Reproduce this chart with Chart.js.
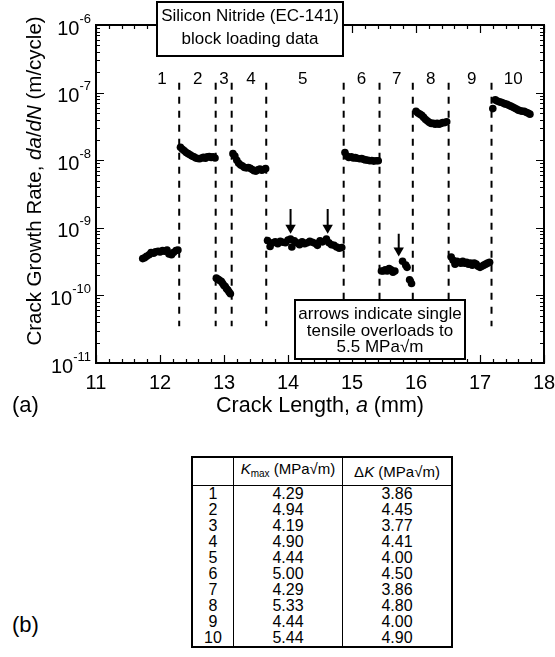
<!DOCTYPE html>
<html>
<head>
<meta charset="utf-8">
<script src="https://cdn.jsdelivr.net/npm/chart.js@4.4.1/dist/chart.umd.min.js"></script>
<style>
  html, body { margin: 0; padding: 0; background: #fff; }
  body { width: 555px; height: 657px; position: relative; overflow: hidden; font-family: "Liberation Sans", Arial, sans-serif; color: #000; }
  #plot { position: absolute; left: 0; top: 0; width: 555px; height: 425px; }
  #lbl-b { position: absolute; left: 12px; top: 612px; font-size: 22px; }
  table { position: absolute; left: 191px; top: 456px; border-collapse: collapse; border: 2px solid #000; font-size: 16px; line-height: 16px; }
  td, th { padding: 0; text-align: center; font-weight: normal; }
  th { height: 27px; border-bottom: 1px solid #000; white-space: nowrap; font-size: 15px; }
  td.n { width: 40px; text-align: center; }
  td.k, th.k { width: 108px; border-left: 1.5px solid #000; }
  sub { font-size: 10px; vertical-align: -3px; }
</style>
</head>
<body>
<div id="plot"><canvas id="chart"></canvas></div>
<div id="lbl-b">(b)</div>
<table id="tbl">
  <thead><tr><th></th><th class="k"><i>K</i><sub>max</sub> (MPa√m)</th><th class="k">Δ<i>K</i> (MPa√m)</th></tr></thead>
  <tbody></tbody>
</table>
<script>
/* Silicon nitride block loading: da/dN vs crack length + load table */

// one [a (mm), da/dN (m/cycle)] list per loading block
const block1 = [[11.73, 3.5e-10], [11.76, 3.6e-10], [11.79, 3.8e-10], [11.83, 4.0e-10], [11.86, 4.3e-10], [11.90, 4.2e-10], [11.93, 4.4e-10], [11.97, 4.5e-10], [12.00, 4.4e-10], [12.04, 4.6e-10], [12.07, 4.5e-10], [12.11, 4.7e-10], [12.14, 4.1e-10], [12.18, 4.0e-10], [12.21, 4.3e-10], [12.25, 4.6e-10], [12.28, 4.7e-10]];
const block2 = [[12.32, 1.55e-8], [12.35, 1.45e-8], [12.38, 1.38e-8], [12.41, 1.30e-8], [12.44, 1.25e-8], [12.47, 1.20e-8], [12.50, 1.15e-8], [12.53, 1.12e-8], [12.56, 1.08e-8], [12.59, 1.06e-8], [12.62, 1.05e-8], [12.65, 1.08e-8], [12.68, 1.10e-8], [12.71, 1.07e-8], [12.74, 1.12e-8], [12.77, 1.13e-8], [12.80, 1.10e-8], [12.83, 1.12e-8], [12.86, 1.08e-8]];
const block3 = [[12.88, 1.80e-10], [12.90, 1.75e-10], [12.92, 1.70e-10], [12.94, 1.65e-10], [12.96, 1.60e-10], [12.98, 1.50e-10], [13.00, 1.40e-10], [13.02, 1.35e-10], [13.04, 1.25e-10], [13.06, 1.20e-10], [13.08, 1.12e-10], [13.10, 1.06e-10]];
const block4 = [[13.14, 1.25e-8], [13.17, 1.15e-8], [13.20, 1.00e-8], [13.23, 9.0e-9], [13.26, 8.5e-9], [13.29, 8.2e-9], [13.32, 7.8e-9], [13.35, 7.7e-9], [13.38, 7.8e-9], [13.41, 7.6e-9], [13.44, 7.3e-9], [13.47, 7.0e-9], [13.50, 6.9e-9], [13.53, 7.2e-9], [13.56, 7.4e-9], [13.59, 7.1e-9], [13.62, 7.3e-9], [13.65, 7.5e-9]];
const block5 = [[13.68, 6.5e-10], [13.72, 5.3e-10], [13.76, 6.0e-10], [13.80, 6.2e-10], [13.84, 5.8e-10], [13.88, 6.3e-10], [13.92, 6.1e-10], [13.96, 6.0e-10], [14.00, 6.6e-10], [14.04, 6.8e-10], [14.06, 5.2e-10], [14.10, 6.4e-10], [14.14, 6.0e-10], [14.18, 5.6e-10], [14.22, 6.2e-10], [14.26, 5.8e-10], [14.30, 6.0e-10], [14.34, 6.3e-10], [14.38, 6.1e-10], [14.42, 5.9e-10], [14.46, 5.5e-10], [14.50, 6.4e-10], [14.54, 6.2e-10], [14.60, 6.8e-10], [14.64, 6.0e-10], [14.68, 5.6e-10], [14.72, 5.5e-10], [14.76, 5.2e-10], [14.80, 5.0e-10], [14.84, 5.1e-10]];
const block6 = [[14.89, 1.30e-8], [14.92, 1.15e-8], [14.95, 1.10e-8], [14.99, 1.12e-8], [15.02, 1.08e-8], [15.05, 1.09e-8], [15.08, 1.07e-8], [15.12, 1.05e-8], [15.15, 1.06e-8], [15.18, 1.03e-8], [15.21, 1.01e-8], [15.25, 1.00e-8], [15.28, 9.8e-9], [15.31, 9.9e-9], [15.34, 9.7e-9], [15.38, 9.8e-9], [15.41, 9.8e-9]];
const block7 = [[15.46, 2.3e-10], [15.49, 2.3e-10], [15.52, 2.4e-10], [15.55, 2.3e-10], [15.58, 2.5e-10], [15.61, 2.4e-10], [15.64, 2.2e-10], [15.67, 2.3e-10], [15.79, 3.2e-10], [15.84, 2.8e-10], [15.86, 2.6e-10], [15.90, 1.7e-10], [15.93, 1.5e-10]];
const block8 = [[16.00, 5.3e-8], [16.03, 5.0e-8], [16.06, 4.8e-8], [16.09, 4.6e-8], [16.12, 4.3e-8], [16.15, 4.0e-8], [16.18, 3.8e-8], [16.21, 3.6e-8], [16.24, 3.5e-8], [16.27, 3.5e-8], [16.30, 3.4e-8], [16.33, 3.5e-8], [16.36, 3.4e-8], [16.39, 3.5e-8], [16.42, 3.6e-8], [16.45, 3.6e-8], [16.48, 3.7e-8]];
const block9 = [[16.55, 3.7e-10], [16.58, 3.3e-10], [16.61, 2.9e-10], [16.64, 3.2e-10], [16.67, 3.1e-10], [16.70, 3.0e-10], [16.73, 3.2e-10], [16.76, 3.0e-10], [16.79, 3.1e-10], [16.82, 2.9e-10], [16.85, 3.0e-10], [16.88, 2.8e-10], [16.91, 3.0e-10], [16.94, 2.9e-10], [16.97, 2.7e-10], [17.00, 2.6e-10], [17.03, 2.7e-10], [17.06, 2.8e-10], [17.09, 2.9e-10], [17.12, 3.0e-10], [17.15, 3.1e-10]];
const block10 = [[17.20, 5.8e-8], [17.24, 7.8e-8], [17.27, 7.5e-8], [17.30, 7.3e-8], [17.33, 7.2e-8], [17.36, 7.0e-8], [17.39, 6.8e-8], [17.42, 6.7e-8], [17.45, 6.5e-8], [17.48, 6.3e-8], [17.51, 6.1e-8], [17.54, 5.9e-8], [17.57, 5.7e-8], [17.60, 5.5e-8], [17.63, 5.4e-8], [17.66, 5.3e-8], [17.69, 5.3e-8], [17.72, 5.1e-8], [17.75, 5.0e-8], [17.78, 4.8e-8]];

// block boundaries (crack length, mm) and block label positions
const dividers = [12.30, 12.87, 13.12, 13.66, 14.87, 15.43, 15.95, 16.51, 17.18];
const blockNames = ["1", "2", "3", "4", "5", "6", "7", "8", "9", "10"];
const blockLabelX = [12.03, 12.59, 13.00, 13.42, 14.23, 15.15, 15.70, 16.23, 16.87, 17.52];
const DIV_TOP = 1.4e-7, DIV_BOTTOM = 3.5e-11, LABEL_Y = 1.55e-7;

// single tensile overloads: [a, arrow top, arrow head]
const overloads = [[14.04, 1.9e-9, 1.0e-9], [14.62, 1.9e-9, 1.0e-9], [15.73, 8.2e-10, 4.6e-10]];

const xTicks = [11, 12, 13, 14, 15, 16, 17, 18];
const yDecades = [-11, -10, -9, -8, -7, -6];

// table (b)
const tableBlocks = ["1", "2", "3", "4", "5", "6", "7", "8", "9", "10"];
const kMax = ["4.29", "4.94", "4.19", "4.90", "4.44", "5.00", "4.29", "5.33", "4.44", "5.44"];
const deltaK = ["3.86", "4.45", "3.77", "4.41", "4.00", "4.50", "3.86", "4.80", "4.00", "4.90"];

const FONT = '"Liberation Sans", Arial, sans-serif';
const blocks = [block1, block2, block3, block4, block5, block6, block7, block8, block9, block10];

const datasets = [];
dividers.forEach((d) => {
  datasets.push({
    data: [{ x: d, y: DIV_TOP }, { x: d, y: DIV_BOTTOM }],
    showLine: true, borderColor: "#000", borderWidth: 2, borderDash: [7, 7], pointRadius: 0,
  });
});
blocks.forEach((b) => {
  datasets.push({
    data: b.map(([x, y]) => ({ x, y })),
    backgroundColor: "#000", borderWidth: 0, pointRadius: 3.8,
  });
});
overloads.forEach(([x, top, head]) => {
  datasets.push({
    data: [{ x, y: top }, { x, y: head }],
    showLine: true, borderColor: "#000", borderWidth: 2,
    pointRadius: [0, 6], pointStyle: "triangle", rotation: 180, backgroundColor: "#000", pointBorderWidth: 0,
  });
});

function textRuns(ctx, runs, x, y, size) {
  // draw mixed upright/italic runs left to right starting at x
  runs.forEach(([s, it]) => {
    ctx.font = `${it ? "italic " : ""}${size}px ${FONT}`;
    ctx.fillText(s, x, y);
    x += ctx.measureText(s).width;
  });
}
function runsWidth(ctx, runs, size) {
  return runs.reduce((w, [s, it]) => {
    ctx.font = `${it ? "italic " : ""}${size}px ${FONT}`;
    return w + ctx.measureText(s).width;
  }, 0);
}

function box(ctx, x0, y0, x1, y1, lines, size) {
  ctx.fillStyle = "#fff";
  ctx.fillRect(x0, y0, x1 - x0, y1 - y0);
  ctx.lineWidth = 2;
  ctx.strokeStyle = "#000";
  ctx.strokeRect(x0, y0, x1 - x0, y1 - y0);
  ctx.fillStyle = "#000";
  ctx.font = `${size}px ${FONT}`;
  ctx.textAlign = "center";
  ctx.textBaseline = "middle";
  lines.forEach(([s, ly]) => ctx.fillText(s, (x0 + x1) / 2, ly));
}

const axesPlugin = {
  id: "axesPlugin",
  afterDatasetsDraw(chart) {
    const { ctx, chartArea: a, scales: { x, y } } = chart;
    ctx.save();
    ctx.strokeStyle = "#000";
    ctx.fillStyle = "#000";
    ctx.lineWidth = 1.2;

    // x ticks: major every 1, minor every 0.2, on bottom and top
    ctx.beginPath();
    for (let v = 11; v <= 18.001; v += 0.2) {
      const px = Math.round(x.getPixelForValue(v)) + 0.5;
      const major = Math.abs(v - Math.round(v)) < 1e-6;
      const len = major ? 8 : 4;
      ctx.moveTo(px, a.bottom); ctx.lineTo(px, a.bottom - len);
      ctx.moveTo(px, a.top); ctx.lineTo(px, a.top + len);
    }
    // y ticks: decades + 2..9 minors, on left and right
    yDecades.forEach((e) => {
      for (let m = 1; m <= 9; m++) {
        const v = m * Math.pow(10, e);
        if (v > 1.0001e-6) break;
        const py = Math.round(y.getPixelForValue(v)) + 0.5;
        const len = m === 1 ? 8 : 4;
        ctx.moveTo(a.left, py); ctx.lineTo(a.left + len, py);
        ctx.moveTo(a.right, py); ctx.lineTo(a.right - len, py);
      }
    });
    ctx.stroke();

    ctx.lineWidth = 2;
    ctx.strokeRect(a.left, a.top, a.right - a.left, a.bottom - a.top);

    // x tick labels
    ctx.font = `20px ${FONT}`;
    ctx.textAlign = "center";
    ctx.textBaseline = "middle";
    xTicks.forEach((v) => ctx.fillText(String(v), x.getPixelForValue(v), a.bottom + 20));

    // y tick labels 10^n
    yDecades.forEach((e) => {
      const py = y.getPixelForValue(Math.pow(10, e));
      const exp = String(e);
      ctx.font = `13px ${FONT}`;
      const we = ctx.measureText(exp).width;
      ctx.textAlign = "left";
      ctx.fillText(exp, a.left - 5 - we, py - 6);
      ctx.font = `20px ${FONT}`;
      ctx.textAlign = "right";
      ctx.fillText("10", a.left - 5 - we, py + 4);
    });

    // block numbers
    ctx.font = `17px ${FONT}`;
    ctx.textAlign = "center";
    blockNames.forEach((s, i) => ctx.fillText(s, x.getPixelForValue(blockLabelX[i]), y.getPixelForValue(LABEL_Y)));

    // axis titles
    const xt = [["Crack Length, ", false], ["a", true], [" (mm)", false]];
    ctx.textAlign = "left";
    const wx = runsWidth(ctx, xt, 21.5);
    textRuns(ctx, xt, (a.left + a.right) / 2 - wx / 2, 406, 21.5);
    ctx.font = `22px ${FONT}`;
    ctx.fillText("(a)", 12, 406);

    const yt = [["Crack Growth Rate, ", false], ["da", true], ["/", false], ["dN", true], [" (m/cycle)", false]];
    const wy = runsWidth(ctx, yt, 20.5);
    ctx.save();
    ctx.translate(35, 181);
    ctx.rotate(-Math.PI / 2);
    textRuns(ctx, yt, -wy / 2, 0, 20.5);
    ctx.restore();

    // annotation boxes
    box(ctx, 157, 2, 343, 56, [["Silicon Nitride (EC-141)", 16], ["block loading data", 39]], 17);
    box(ctx, 295, 300, 465, 359, [["arrows indicate single", 314], ["tensile overloads to", 331], ["5.5 MPa\u221Am", 347]], 17);
    ctx.restore();
  },
};

new Chart(document.getElementById("chart"), {
  type: "scatter",
  data: { datasets },
  options: {
    responsive: true,
    maintainAspectRatio: false,
    animation: false,
    events: [],
    layout: { padding: { left: 96, right: 11, top: 25, bottom: 62 } },
    plugins: { legend: { display: false }, tooltip: { enabled: false } },
    scales: {
      x: { type: "linear", min: 11, max: 18, display: false },
      y: { type: "logarithmic", min: 1e-11, max: 1e-6, display: false },
    },
  },
  plugins: [axesPlugin],
});

const tbody = document.querySelector("#tbl tbody");
tableBlocks.forEach((b, i) => {
  const tr = document.createElement("tr");
  tr.innerHTML = `<td class="n">${b}</td><td class="k">${kMax[i]}</td><td class="k">${deltaK[i]}</td>`;
  tbody.appendChild(tr);
});
</script>
</body>
</html>
